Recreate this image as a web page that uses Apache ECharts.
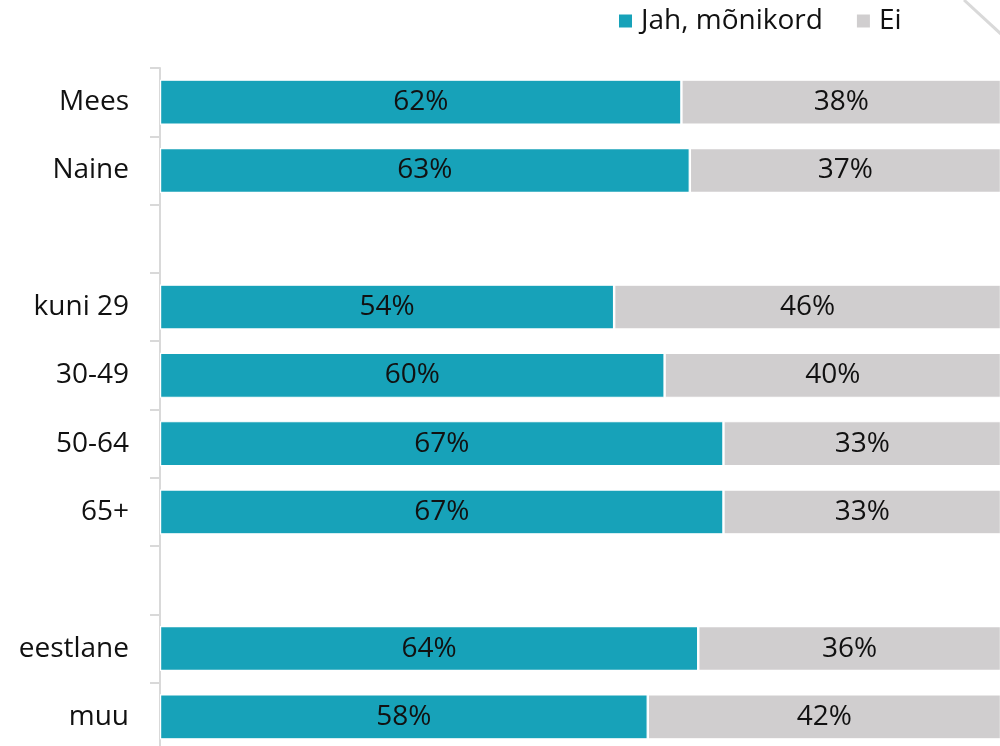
<!DOCTYPE html>
<html>
<head>
<meta charset="utf-8">
<script src="https://cdn.jsdelivr.net/npm/echarts@6/dist/echarts.min.js"></script>
<style>
  html, body { margin: 0; padding: 0; background: #fff; }
  #chart { width: 1000px; height: 746px; }
</style>
</head>
<body>
<div id="chart"></div>
<script>
// Groups separated by empty rows: gender, age, nationality
const categories = ['Mees', 'Naine', '', 'kuni 29', '30-49', '50-64', '65+', '', 'eestlane', 'muu'];
const jah = [62, 63, null, 54, 60, 67, 67, null, 64, 58];
const ei = [38, 37, null, 46, 40, 33, 33, null, 36, 42];
const seriesNames = ['Jah, mõnikord', 'Ei'];

const FONT = 'Open Sans';
const chart = echarts.init(document.getElementById('chart'));

const labelStyle = {
  show: true,
  position: 'inside',
  formatter: p => p.value == null ? '' : p.value + '%',
  color: '#111',
  fontFamily: FONT,
  fontSize: 28
};

chart.setOption({
  animation: false,
  textStyle: { fontFamily: FONT },
  legend: {
    data: seriesNames,
    top: 7,
    left: 617,
    padding: 0,
    itemWidth: 15,
    itemHeight: 15,
    itemGap: 32,
    icon: 'rect',
    textStyle: { fontSize: 28, color: '#111', fontFamily: FONT, padding: [0, 0, 0, 3] }
  },
  grid: {
    left: 160, top: 68, width: 841, height: 683,
    containLabel: false,
    outerBoundsMode: 'none'
  },
  xAxis: {
    type: 'value',
    min: 0,
    max: 100,
    show: false
  },
  yAxis: {
    type: 'category',
    data: categories,
    inverse: true,
    axisLine: { show: true, lineStyle: { color: '#d9d9d9', width: 2 } },
    axisTick: { show: true, length: 10, lineStyle: { color: '#d9d9d9', width: 2 } },
    axisLabel: { fontSize: 28, color: '#111', fontFamily: FONT, margin: 31 }
  },
  series: [
    {
      name: seriesNames[0],
      type: 'bar',
      stack: 'total',
      data: jah,
      barWidth: 45,
      itemStyle: { color: '#17a2b9', borderColor: '#fff', borderWidth: 1.2 },
      label: labelStyle
    },
    {
      name: seriesNames[1],
      type: 'bar',
      stack: 'total',
      data: ei,
      barWidth: 45,
      itemStyle: { color: '#d0cecf', borderColor: '#fff', borderWidth: 1.2 },
      label: labelStyle
    }
  ],
  graphic: [
    {
      type: 'line',
      shape: { x1: 964, y1: 0, x2: 1002, y2: 35 },
      style: { stroke: '#d9d9d9', lineWidth: 3 }
    }
  ]
});
</script>
</body>
</html>
